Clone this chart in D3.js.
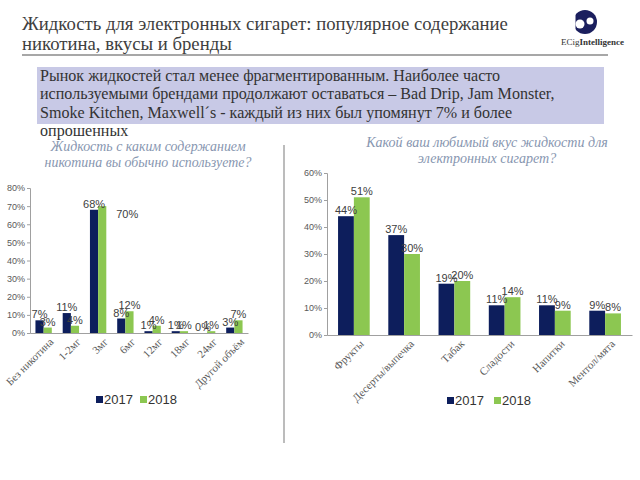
<!DOCTYPE html>
<html><head><meta charset="utf-8">
<script src="https://cdn.jsdelivr.net/npm/d3@7"></script>
<style>body{margin:0;background:#fff}svg{display:block}</style>
</head><body>
<svg id="c" width="640" height="480"></svg>
<script>
const titleLines = ["Жидкость для электронных сигарет: популярное содержание", "никотина, вкусы и бренды"];
const boxLines = ["Рынок жидкостей стал менее фрагментированным. Наиболее часто",
  "используемыми брендами продолжают оставаться – Bad Drip, Jam Monster,",
  "Smoke Kitchen, Maxwell´s - каждый из них был упомянут 7% и более",
  "опрошенных"];
const series = ["2017", "2018"];

const leftTitle = ["Жидкость с каким содержанием", "никотина вы обычно используете?"];
const leftCats = ["Без никотина", "1-2мг", "3мг", "6мг", "12мг", "18мг", "24мг", "Другой объём"];
const left2017 = [7, 11, 68, 8, 1, 1, 0, 3];
const left2018 = [3, 4, 70, 12, 4, 1, 1, 7];
const leftTicks = [0, 10, 20, 30, 40, 50, 60, 70, 80];

const rightTitle = ["Какой ваш любимый вкус жидкости для", "электронных сигарет?"];
const rightCats = ["Фрукты", "Десерты/выпечка", "Табак", "Сладости", "Напитки", "Ментол/мята"];
const right2017 = [44, 37, 19, 11, 11, 9];
const right2018 = [51, 30, 20, 14, 9, 8];
const rightTicks = [0, 10, 20, 30, 40, 50, 60];

const colors = ["#0d1e5c", "#8cc751"];
const svg = d3.select("#c");
const serif = "Liberation Serif";
const sans = "Liberation Sans";

// size a group of text lines so that the reference line reaches the target width
function fitLines(sel, refIndex, target, base) {
  const node = sel.nodes()[refIndex];
  const w = node.getComputedTextLength();
  sel.attr("font-size", base * target / w);
}

// Title
const tl = svg.append("g").selectAll("text").data(titleLines).join("text")
  .attr("x", 22).attr("y", (d, i) => 30 + i * 20)
  .attr("font-family", serif).attr("font-size", 18).attr("fill", "#404040").text(d => d);
fitLines(tl, 0, 486, 18);
svg.append("line").attr("x1", 22).attr("x2", 608).attr("y1", 55).attr("y2", 55)
  .attr("stroke", "#8a8a8a").attr("stroke-width", 1.5);

// Logo
const logo = svg.append("g");
logo.append("circle").attr("cx", 585).attr("cy", 22).attr("r", 12).attr("fill", "#1b1f5e");
logo.append("circle").attr("cx", 580).attr("cy", 24).attr("r", 4.5).attr("fill", "#fff");
logo.append("circle").attr("cx", 590).attr("cy", 21).attr("r", 3.5).attr("fill", "#fff");
logo.append("rect").attr("x", 570).attr("y", 8).attr("width", 5.5).attr("height", 28).attr("fill", "#fff");
const lt = logo.append("text").attr("x", 561).attr("y", 45).attr("font-family", serif).attr("font-size", 9).attr("fill", "#333");
lt.append("tspan").text("ECig");
lt.append("tspan").attr("font-weight", "bold").text("Intelligence");

// Box
svg.append("rect").attr("x", 37).attr("y", 67).attr("width", 567).attr("height", 57).attr("fill", "#c8c9e6");
const bl = svg.append("g").selectAll("text").data(boxLines).join("text")
  .attr("x", 40).attr("y", (d, i) => 81 + i * 18.3)
  .attr("font-family", serif).attr("font-size", 14).attr("fill", "#333").text(d => d);
fitLines(bl, 1, 515, 14);

// Divider
svg.append("line").attr("x1", 284).attr("x2", 284).attr("y1", 145).attr("y2", 443)
  .attr("stroke", "#a6a6a6").attr("stroke-width", 1.5);

function chart(cfg) {
  const g = svg.append("g");
  const st = g.append("g").selectAll("text").data(cfg.title).join("text")
    .attr("x", cfg.titleX).attr("y", (d, i) => cfg.titleY + i * 15.5)
    .attr("text-anchor", "middle").attr("font-family", serif).attr("font-style", "italic")
    .attr("font-size", 12).attr("fill", "#8796b0").text(d => d);
  fitLines(st, cfg.titleRef, cfg.titleW, 12);

  const x = d3.scaleBand().domain(cfg.cats).range(cfg.xr).paddingInner(cfg.pi).paddingOuter(cfg.po);
  const xs = d3.scaleBand().domain(series).range([0, x.bandwidth()]);
  const y = d3.scaleLinear().domain([0, cfg.max]).range(cfg.yr);

  const yAxis = d3.axisLeft(y).tickValues(cfg.ticks).tickSize(3).tickPadding(2).tickFormat(d => d + "%");
  const ya = g.append("g").attr("transform", `translate(${cfg.xr[0]},0)`).call(yAxis);
  ya.select(".domain").attr("stroke", "#a0a0a0");
  ya.selectAll(".tick line").attr("stroke", "#a0a0a0");
  ya.selectAll("text").attr("font-family", sans).attr("font-size", 9).attr("fill", "#595959");

  const xAxis = d3.axisBottom(x).tickSize(0).tickPadding(6);
  const xa = g.append("g").attr("transform", `translate(0,${cfg.yr[0]})`).call(xAxis);
  xa.select(".domain").attr("stroke", "#a0a0a0");
  xa.selectAll("text").attr("font-family", serif).attr("font-size", cfg.xfs).attr("fill", "#595959")
    .attr("text-anchor", "end").attr("dy", "0.3em")
    .attr("transform", "translate(4,3) rotate(-45)");

  const data = cfg.cats.map((c, i) => ({ c, v: [cfg.s1[i], cfg.s2[i]] }));
  const grp = g.append("g").selectAll("g").data(data).join("g").attr("transform", d => `translate(${x(d.c)},0)`);
  grp.selectAll("rect").data(d => d.v.map((v, k) => ({ v, k, c: d.c }))).join("rect")
    .attr("x", d => xs(series[d.k])).attr("width", xs.bandwidth())
    .attr("y", d => y(d.v)).attr("height", d => y(0) - y(d.v)).attr("fill", d => colors[d.k]);
  grp.selectAll("text").data(d => d.v.map((v, k) => ({ v, k, c: d.c }))).join("text")
    .attr("x", d => xs(series[d.k]) + xs.bandwidth() / 2 + (cfg.shift(d) ? cfg.shift(d)[0] : 0))
    .attr("y", d => y(d.v) - 2 + (cfg.shift(d) ? cfg.shift(d)[1] : 0))
    .attr("text-anchor", "middle").attr("font-family", sans).attr("font-size", cfg.lfs).attr("fill", "#404040")
    .text(d => d.v + "%");

  const lg = g.append("g").selectAll("g").data(series).join("g")
    .attr("transform", (d, i) => `translate(${cfg.legX[i]},${cfg.legY})`);
  lg.append("rect").attr("x", 0).attr("y", -8).attr("width", 7).attr("height", 7).attr("fill", (d, i) => colors[i]);
  lg.append("text").attr("x", 8).attr("y", 0).attr("font-family", sans).attr("font-size", 13).attr("fill", "#333").text(d => d);
}

chart({ title: leftTitle, titleX: 148, titleY: 151, titleRef: 1, titleW: 207,
  cats: leftCats, s1: left2017, s2: left2018,
  max: 80, ticks: leftTicks, xr: [30, 248], yr: [333, 188], pi: 0.4, po: 0.2, xfs: 11, lfs: 11,
  legX: [96, 140], legY: 404,
  shift: d => (d.c === "3мг" && d.k === 1) ? [25, 14] : null });

chart({ title: rightTitle, titleX: 487, titleY: 147, titleRef: 0, titleW: 242,
  cats: rightCats, s1: right2017, s2: right2018,
  max: 60, ticks: rightTicks, xr: [327, 632], yr: [335, 173], pi: 0.37, po: 0.22, xfs: 11, lfs: 11,
  legX: [447, 494], legY: 405,
  shift: d => null });
</script>
</body></html>
